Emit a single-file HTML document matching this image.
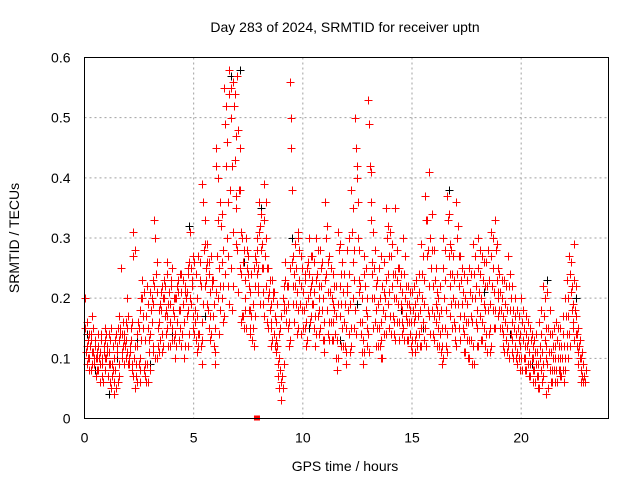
<!DOCTYPE html>
<html><head><meta charset="utf-8"><style>
html,body{margin:0;padding:0;background:#fff}
svg{display:block;font-family:"Liberation Sans","DejaVu Sans",sans-serif}
</style></head><body>
<svg id="chart" width="640" height="480" viewBox="0 0 640 480">
<rect width="640" height="480" fill="#fff"/>
<g id="grid"></g>
<g id="black-pts"></g>
<g id="red-pts"></g>
<rect x="84.5" y="57.5" width="524" height="361" fill="none" stroke="#000" stroke-width="1"/>
<g id="ticks"></g>
<text x="345" y="32" font-size="14" text-anchor="middle">Day 283 of 2024, SRMTID for receiver uptn</text>
<text x="345" y="471" font-size="14" text-anchor="middle">GPS time / hours</text>
<text transform="translate(19,238) rotate(-90)" font-size="14" text-anchor="middle">SRMTID / TECUs</text>
</svg>
<script>
const xTicks=[0,5,10,15,20];
const yTicks=[0,0.1,0.2,0.3,0.4,0.5,0.6];
const yTickLabels=["0","0.1","0.2","0.3","0.4","0.5","0.6"];
const redTimes=[0,0.2,0.4,0.6,0.8,1.0,1.2,1.4,1.6,1.8,2.0,2.2,2.4,2.6,2.8,3.0,3.2,3.4,3.6,3.8,4.0,4.2,4.4,4.6,4.8,5.0,5.2,5.4,5.6,5.8,6.0,6.2,6.4,6.6,6.8,7.0,7.2,7.4,7.6,7.8,8.0,8.2,8.4,8.6,8.8,9.0,9.2,9.4,9.6,9.8,10.0,10.2,10.4,10.6,10.8,11.0,11.2,11.4,11.6,11.8,12.0,12.2,12.4,12.6,12.8,13.0,13.2,13.4,13.6,13.8,14.0,14.2,14.4,14.6,14.8,15.0,15.2,15.4,15.6,15.8,16.0,16.2,16.4,16.6,16.8,17.0,17.2,17.4,17.6,17.8,18.0,18.2,18.4,18.6,18.8,19.0,19.2,19.4,19.6,19.8,20.0,20.2,20.4,20.6,20.8,21.0,21.2,21.4,21.6,21.8,22.0,22.2,22.4,22.6,22.8];
const redVals=[[.20,.15,.11,.09,.13],[.10,.12,.08,.14,.17],[.11,.09,.13,.07,.10],[.12,.08,.10,.06,.14],[.09,.06,.11,.13,.15],[.10,.12,.07,.14,.09],[.05,.07,.09,.12,.04],[.08,.14,.11,.06,.17],[.13,.15,.25,.10,.12],[.14,.12,.16,.10,.20],[.09,.10,.12,.15,.08],[.31,.27,.10,.05,.07],[.12,.16,.09,.06,.18],[.20,.23,.15,.08,.07],[.17,.22,.09,.06,.13],[.14,.18,.20,.11,.23],[.33,.30,.24,.10,.12],[.16,.19,.13,.21,.11],[.20,.23,.17,.14,.26],[.17,.19,.21,.12,.23],[.15,.18,.13,.20,.10],[.20,.16,.23,.13,.18],[.24,.21,.14,.19,.10],[.22,.20,.17,.25,.12],[.26,.31,.19,.23,.15],[.26,.18,.16,.13,.11],[.27,.14,.23,.12,.09],[.39,.36,.28,.22,.25],[.29,.18,.24,.15,.13],[.27,.22,.17,.12,.09],[.45,.42,.27,.20,.14],[.36,.32,.26,.20,.16],[.55,.49,.42,.30,.22],[.58,.54,.38,.25,.18],[.56,.52,.43,.35,.29],[.57,.48,.38,.25,.16],[.30,.26,.17,.15,.20],[.30,.28,.24,.18,.14],[.21,.17,.13,.19,.25],[.27,.26,.24,.30,.22],[.36,.32,.28,.25,.19],[.39,.33,.27,.22,.16],[.25,.21,.18,.15,.12],[.23,.20,.14,.12,.16],[.12,.09,.07,.05,.15],[.03,.07,.20,.22,.18],[.26,.18,.22,.15,.12],[.56,.50,.45,.38,.27],[.24,.22,.19,.14,.30],[.31,.23,.19,.14,.25],[.21,.18,.15,.24,.12],[.25,.20,.30,.16,.22],[.27,.23,.19,.15,.12],[.30,.24,.17,.14,.20],[.28,.22,.18,.13,.11],[.36,.30,.24,.18,.14],[.27,.21,.16,.13,.19],[.24,.18,.14,.10,.08],[.31,.28,.22,.17,.12],[.26,.21,.16,.12,.09],[.28,.22,.18,.14,.11],[.38,.31,.26,.20,.15],[.50,.45,.40,.30,.23],[.22,.16,.14,.11,.09],[.27,.22,.18,.15,.12],[.53,.49,.42,.36,.24],[.31,.25,.20,.16,.12],[.23,.19,.15,.12,.10],[.27,.22,.18,.14,.20],[.35,.30,.24,.19,.15],[.31,.27,.22,.17,.14],[.35,.24,.20,.16,.25],[.25,.22,.19,.16,.14],[.30,.24,.20,.17,.13],[.22,.19,.16,.14,.12],[.21,.18,.16,.13,.11],[.23,.20,.17,.14,.12],[.29,.24,.20,.16,.13],[.37,.33,.27,.18,.22],[.41,.30,.25,.18,.14],[.28,.23,.19,.16,.12],[.20,.17,.14,.11,.09],[.30,.25,.20,.15,.12],[.37,.33,.27,.22,.17],[.28,.24,.20,.16,.13],[.36,.30,.24,.19,.15],[.27,.23,.19,.15,.11],[.24,.20,.16,.13,.10],[.25,.21,.17,.13,.09],[.29,.24,.20,.16,.12],[.30,.25,.21,.17,.13],[.27,.23,.19,.15,.12],[.26,.22,.18,.14,.11],[.31,.27,.22,.18,.15],[.33,.28,.23,.20,.17],[.24,.21,.18,.15,.12],[.23,.19,.16,.13,.11],[.27,.22,.18,.14,.11],[.22,.18,.15,.12,.10],[.18,.15,.13,.10,.08],[.20,.16,.13,.10,.08],[.17,.14,.12,.09,.07],[.15,.13,.10,.08,.06],[.13,.11,.09,.07,.05],[.16,.12,.10,.08,.06],[.22,.17,.13,.10,.04],[.21,.15,.11,.08,.06],[.14,.12,.10,.08,.06],[.16,.13,.10,.08,.07],[.15,.12,.10,.08,.06],[.20,.17,.14,.12,.10],[.27,.24,.21,.18,.15],[.29,.23,.18,.14,.12],[.15,.12,.10,.08,.06],[.11,.09,.07,.06,.08]];
const redTimes2=[0.1,0.3,0.5,0.7,0.9,1.1,1.3,1.5,1.7,1.9,2.1,2.3,2.5,2.7,2.9,3.1,3.3,3.5,3.7,3.9,4.1,4.3,4.5,4.7,4.9,5.1,5.3,5.5,5.7,5.9,6.1,6.3,6.5,6.7,6.9,7.1,7.3,7.5,7.7,7.9,8.1,8.3,8.5,8.7,8.9,9.1,9.3,9.5,9.7,9.9,10.1,10.3,10.5,10.7,10.9,11.1,11.3,11.5,11.7,11.9,12.1,12.3,12.5,12.7,12.9,13.1,13.3,13.5,13.7,13.9,14.1,14.3,14.5,14.7,14.9,15.1,15.3,15.5,15.7,15.9,16.1,16.3,16.5,16.7,16.9,17.1,17.3,17.5,17.7,17.9,18.1,18.3,18.5,18.7,18.9,19.1,19.3,19.5,19.7,19.9,20.1,20.3,20.5,20.7,20.9,21.1,21.3,21.5,21.7,21.9,22.1,22.3,22.5,22.7];
const redVals2=[[.16,.12,.10,.08,.14],[.13,.11,.09,.15,.10],[.12,.10,.08,.11,.14],[.11,.09,.13,.07,.10],[.12,.10,.08,.14,.11],[.11,.09,.06,.13,.15],[.08,.06,.10,.13,.05],[.12,.15,.09,.07,.14],[.14,.11,.16,.13,.09],[.13,.15,.11,.17,.09],[.11,.13,.09,.16,.07],[.28,.12,.09,.06,.14],[.15,.10,.08,.13,.20],[.17,.21,.13,.09,.06],[.19,.15,.11,.08,.21],[.16,.19,.12,.22,.10],[.26,.21,.15,.11,.18],[.18,.14,.22,.12,.20],[.22,.18,.15,.24,.12],[.19,.16,.22,.13,.25],[.17,.14,.20,.12,.22],[.21,.18,.15,.24,.12],[.23,.19,.16,.12,.21],[.21,.18,.24,.14,.20],[.25,.22,.17,.27,.14],[.24,.20,.17,.14,.12],[.26,.22,.16,.13,.19],[.33,.29,.23,.19,.26],[.26,.21,.17,.14,.23],[.23,.19,.15,.11,.21],[.40,.33,.25,.18,.22],[.34,.28,.22,.17,.24],[.52,.46,.36,.27,.19],[.55,.50,.42,.31,.22],[.54,.47,.37,.28,.21],[.45,.38,.31,.24,.17],[.28,.23,.18,.15,.25],[.27,.22,.18,.15,.24],[.19,.15,.12,.22,.17],[.28,.25,.21,.31,.19],[.34,.29,.25,.21,.17],[.36,.30,.25,.20,.15],[.23,.19,.16,.13,.21],[.21,.17,.13,.11,.19],[.14,.10,.08,.06,.17],[.05,.09,.19,.23,.16],[.22,.19,.16,.13,.25],[.26,.22,.19,.16,.29],[.25,.21,.18,.15,.28],[.27,.22,.18,.15,.21],[.23,.19,.16,.13,.26],[.24,.21,.27,.17,.19],[.26,.21,.17,.14,.23],[.28,.22,.18,.15,.25],[.26,.20,.16,.13,.23],[.32,.26,.21,.16,.13],[.25,.20,.16,.13,.22],[.22,.17,.13,.10,.19],[.29,.24,.19,.15,.12],[.24,.19,.15,.11,.21],[.30,.24,.19,.15,.12],[.35,.28,.23,.18,.14],[.42,.36,.28,.21,.16],[.20,.16,.13,.11,.24],[.25,.20,.17,.14,.11],[.41,.33,.26,.20,.15],[.28,.22,.18,.15,.12],[.25,.20,.16,.13,.10],[.26,.21,.17,.14,.23],[.32,.27,.21,.17,.14],[.29,.24,.20,.16,.13],[.28,.23,.19,.16,.13],[.24,.21,.18,.15,.13],[.27,.22,.19,.16,.13],[.21,.18,.16,.13,.11],[.22,.19,.17,.14,.12],[.24,.21,.18,.15,.12],[.27,.23,.19,.15,.12],[.33,.28,.22,.17,.14],[.34,.28,.22,.17,.13],[.25,.21,.18,.15,.12],[.22,.18,.15,.12,.10],[.28,.23,.18,.14,.11],[.34,.29,.24,.19,.15],[.27,.23,.19,.15,.12],[.32,.27,.22,.17,.13],[.25,.21,.17,.14,.11],[.23,.19,.16,.13,.10],[.24,.20,.16,.12,.09],[.27,.22,.18,.15,.12],[.28,.24,.20,.16,.13],[.26,.22,.18,.14,.11],[.28,.23,.19,.15,.12],[.30,.25,.21,.18,.15],[.29,.25,.21,.18,.15],[.23,.20,.17,.14,.11],[.22,.18,.15,.12,.10],[.24,.20,.16,.13,.10],[.20,.17,.14,.11,.09],[.17,.14,.12,.10,.08],[.18,.15,.12,.10,.08],[.16,.13,.11,.09,.07],[.14,.12,.10,.08,.06],[.14,.11,.09,.07,.05],[.18,.14,.11,.09,.07],[.20,.15,.12,.09,.05],[.18,.14,.11,.08,.06],[.15,.12,.10,.08,.06],[.15,.12,.10,.08,.07],[.17,.14,.12,.10,.08],[.23,.20,.17,.14,.12],[.26,.22,.19,.16,.13],[.22,.17,.14,.11,.09],[.13,.10,.08,.07,.06]];
const blackTimes=[0.1,0.5,1.1,1.5,2.4,3.0,4.0,4.8,5.5,6.7,7.1,7.3,8.1,9.5,10.3,11.7,12.5,13.3,14.5,15.5,16.7,17.5,18.3,19.5,20.5,21.2,22.5];
const blackVals=[0.14,0.08,0.04,0.10,0.13,0.09,0.14,0.32,0.17,0.57,0.58,0.26,0.35,0.30,0.15,0.13,0.19,0.16,0.18,0.15,0.38,0.13,0.21,0.14,0.09,0.23,0.20];
const X0=84.5,X1=608.5,Y0=418.5,Y1=57.5,XMAX=24,YMAX=0.6;
function xs(v){return X0+(X1-X0)*v/XMAX;}
function ys(v){return Y0-(Y0-Y1)*v/YMAX;}
const NS="http://www.w3.org/2000/svg";
function mk(tag,attrs,parent){const e=document.createElementNS(NS,tag);for(const k in attrs)e.setAttribute(k,attrs[k]);parent.appendChild(e);return e;}
const grid=document.getElementById('grid'),ticks=document.getElementById('ticks');
xTicks.forEach(function(t){
 const x=xs(t);
 if(t>0){const g=mk('line',{x1:x,x2:x,y1:Y1,y2:Y0,stroke:'#a0a0a0','stroke-dasharray':'2,3'},grid);
 
 }
 const l=mk('text',{x:x,y:Y0+24,'font-size':14,'text-anchor':'middle'},ticks);l.textContent=String(t);
 
 
});
yTicks.forEach(function(t,i){
 const y=ys(t);
 if(t>0&&t<YMAX){const g=mk('line',{x1:X0,x2:X1,y1:y,y2:y,stroke:'#a0a0a0','stroke-dasharray':'2,3'},grid);
 
 }
 const l=mk('text',{x:X0-14,y:y+5,'font-size':14,'text-anchor':'end'},ticks);l.textContent=yTickLabels[i];
 
 
});
function cross(parent,t,v,col,name){
 const x=Math.round(xs(t))+0.5,y=Math.round(ys(v))+0.5;
 const p=mk('path',{d:'M'+(x-4)+' '+y+'h8M'+x+' '+(y-4)+'v8',stroke:col,'stroke-width':1,fill:'none'},parent);
 
 
}
const bg=document.getElementById('black-pts');
blackTimes.forEach(function(t,i){cross(bg,t,blackVals[i],'#000','black-point');});
const rg=document.getElementById('red-pts');
redTimes.forEach(function(t,i){redVals[i].forEach(function(v,k){cross(rg,t+k*0.04,v,'#ff0000','red-point');});});
redTimes2.forEach(function(t,i){redVals2[i].forEach(function(v,k){cross(rg,t+k*0.03,v,'#ff0000','red-point');});});
const sq=mk('rect',{x:xs(7.9)-3,y:Y0-3,width:6,height:5,fill:'#ff0000'},rg);


</script>
</body></html>
